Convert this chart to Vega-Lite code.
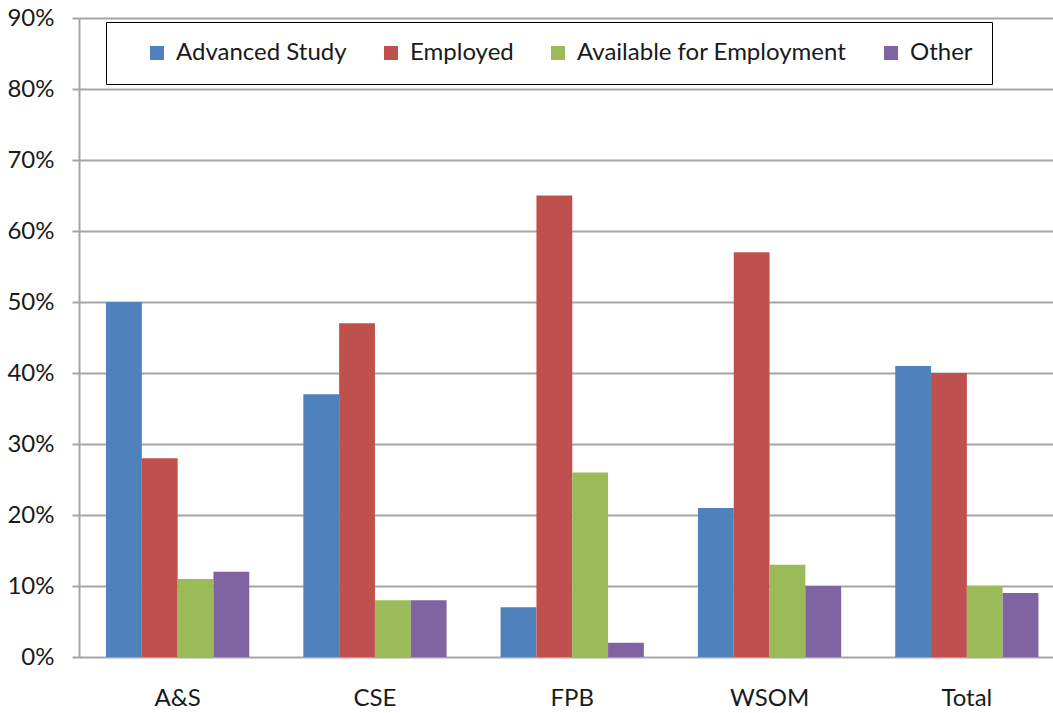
{
  "$schema": "https://vega.github.io/schema/vega-lite/v6.json",
  "width": 974,
  "height": 639,
  "autosize": {"type": "none"},
  "padding": {"left": 79, "top": 18, "right": 0, "bottom": 56},
  "background": "white",
  "config": {
    "view": {"stroke": null},
    "font": "Lato",
    "axis": {"labelFont": "Lato", "labelColor": "#1a1a1a", "labelFontSize": 24}
  },
  "data": {
    "values": [
      {"school": "A&S", "status": "Advanced Study", "pct": 0.50},
      {"school": "A&S", "status": "Employed", "pct": 0.28},
      {"school": "A&S", "status": "Available for Employment", "pct": 0.11},
      {"school": "A&S", "status": "Other", "pct": 0.12},
      {"school": "CSE", "status": "Advanced Study", "pct": 0.37},
      {"school": "CSE", "status": "Employed", "pct": 0.47},
      {"school": "CSE", "status": "Available for Employment", "pct": 0.08},
      {"school": "CSE", "status": "Other", "pct": 0.08},
      {"school": "FPB", "status": "Advanced Study", "pct": 0.07},
      {"school": "FPB", "status": "Employed", "pct": 0.65},
      {"school": "FPB", "status": "Available for Employment", "pct": 0.26},
      {"school": "FPB", "status": "Other", "pct": 0.02},
      {"school": "WSOM", "status": "Advanced Study", "pct": 0.21},
      {"school": "WSOM", "status": "Employed", "pct": 0.57},
      {"school": "WSOM", "status": "Available for Employment", "pct": 0.13},
      {"school": "WSOM", "status": "Other", "pct": 0.10},
      {"school": "Total", "status": "Advanced Study", "pct": 0.41},
      {"school": "Total", "status": "Employed", "pct": 0.40},
      {"school": "Total", "status": "Available for Employment", "pct": 0.10},
      {"school": "Total", "status": "Other", "pct": 0.09}
    ]
  },
  "mark": {"type": "bar", "clip": false},
  "encoding": {
    "x": {
      "field": "school",
      "type": "nominal",
      "sort": ["A&S", "CSE", "FPB", "WSOM", "Total"],
      "scale": {"range": [0, 986.5], "paddingInner": 0.274, "paddingOuter": 0.137},
      "axis": {
        "title": null,
        "labelAngle": 0,
        "domain": false,
        "ticks": false,
        "labelPadding": 29
      }
    },
    "xOffset": {
      "field": "status",
      "type": "nominal",
      "sort": ["Advanced Study", "Employed", "Available for Employment", "Other"],
      "scale": {"paddingInner": 0, "paddingOuter": 0}
    },
    "y": {
      "field": "pct",
      "type": "quantitative",
      "scale": {"domain": [0, 0.9], "nice": false},
      "axis": {
        "title": null,
        "format": ".0%",
        "values": [0, 0.1, 0.2, 0.3, 0.4, 0.5, 0.6, 0.7, 0.8, 0.9],
        "grid": true,
        "gridColor": "#a5a5a8",
        "gridWidth": 2,
        "domainColor": "#a5a5a8",
        "domainWidth": 2,
        "tickColor": "#a5a5a8",
        "tickWidth": 2,
        "tickSize": 7,
        "labelPadding": 18
      }
    },
    "color": {
      "field": "status",
      "type": "nominal",
      "sort": ["Advanced Study", "Employed", "Available for Employment", "Other"],
      "scale": {
        "domain": ["Advanced Study", "Employed", "Available for Employment", "Other"],
        "range": ["#4F81BD", "#C0504D", "#9BBB59", "#8064A2"]
      },
      "legend": {
        "title": null,
        "orient": "none",
        "direction": "horizontal",
        "legendX": 27,
        "legendY": 4,
        "symbolType": "square",
        "symbolSize": 196,
        "symbolStrokeWidth": 0,
        "symbolOffset": 20,
        "labelFont": "Lato",
        "labelFontSize": 24,
        "labelColor": "#1a1a1a",
        "labelOffset": 7,
        "labelLimit": 400,
        "columnPadding": 12,
        "padding": 19,
        "strokeColor": "#000000",
        "fillColor": "white"
      }
    }
  }
}
